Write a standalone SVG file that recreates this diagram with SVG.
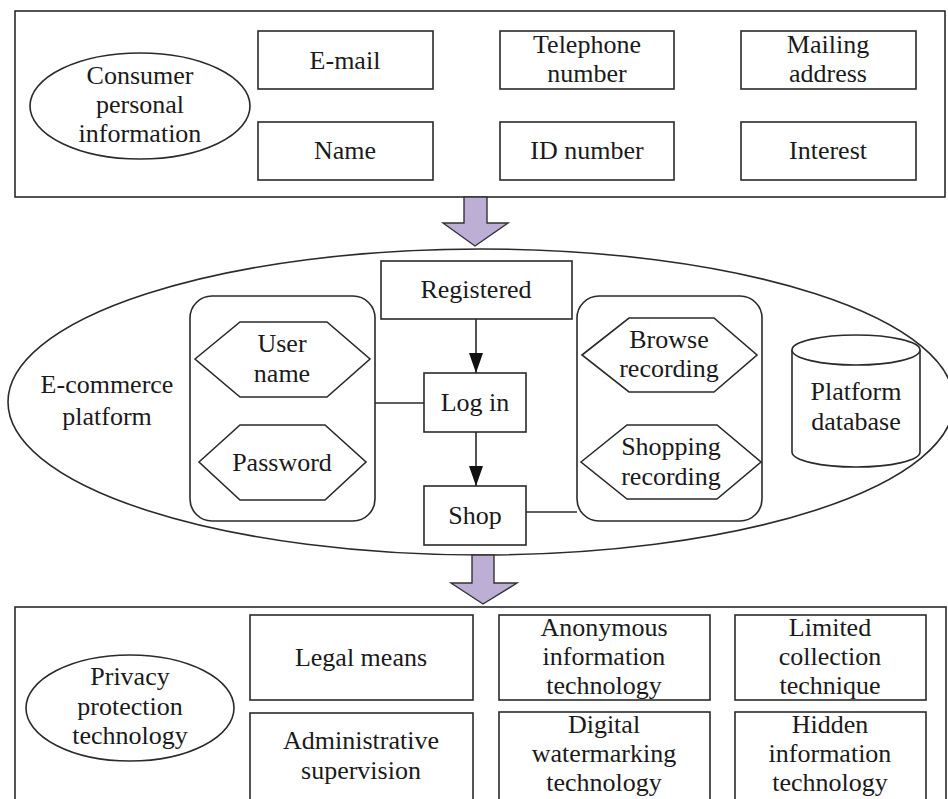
<svg xmlns="http://www.w3.org/2000/svg" width="948" height="799" viewBox="0 0 948 799">
<style>
.b{fill:#fff;stroke:#2a2a2a;stroke-width:1.6}
.n{fill:none;stroke:#2a2a2a;stroke-width:1.6}
.t{font-family:"Liberation Serif","Times New Roman",serif;font-size:26px;fill:#1a1a1a;text-anchor:middle}
.pa{fill:#bcaed4;stroke:#333;stroke-width:1.4}
</style>
<defs>
<marker id="ah" viewBox="0 0 20 14" refX="20" refY="7" markerWidth="20" markerHeight="14" markerUnits="userSpaceOnUse" orient="auto">
<path d="M0,0 L20,7 L0,14 Z" fill="#111"/>
</marker>
</defs>
<rect width="948" height="799" fill="#fff"/>

<g id="top-panel">
<rect class="b" x="15" y="11" width="930" height="186"/>
<g id="consumer"><ellipse class="b" cx="140" cy="106" rx="110" ry="53"/>
<text class="t" x="140" y="84">Consumer</text><text class="t" x="140" y="113">personal</text><text class="t" x="140" y="142">information</text></g>
<g id="email"><rect class="b" x="258" y="31" width="175" height="58"/><text class="t" x="345" y="69">E-mail</text></g>
<g id="telephone"><rect class="b" x="500" y="31" width="174" height="58"/><text class="t" x="587" y="53">Telephone</text><text class="t" x="587" y="82">number</text></g>
<g id="mailing"><rect class="b" x="741" y="31" width="175" height="58"/><text class="t" x="828" y="53">Mailing</text><text class="t" x="828" y="82">address</text></g>
<g id="name"><rect class="b" x="258" y="122" width="175" height="58"/><text class="t" x="345" y="159">Name</text></g>
<g id="idnumber"><rect class="b" x="500" y="122" width="174" height="58"/><text class="t" x="587" y="159">ID number</text></g>
<g id="interest"><rect class="b" x="741" y="122" width="175" height="58"/><text class="t" x="828" y="159">Interest</text></g>
</g>

<g id="arrow1"><path class="pa" d="M464,197 L487,197 L487,223 L508,223 L475,246 L443,223 L464,223 Z"/></g>

<g id="platform">
<ellipse class="b" cx="481" cy="402" rx="473" ry="153"/>
<text class="t" x="107" y="393">E-commerce</text><text class="t" x="107" y="425">platform</text>
</g>

<g id="account-group">
<rect class="b" x="190" y="296" width="185" height="225" rx="22"/>
<g id="username"><polygon class="b" points="195,359 240,322 327,322 370,359 327,397 240,397"/><text class="t" x="282" y="352">User</text><text class="t" x="282" y="382">name</text></g>
<g id="password"><polygon class="b" points="199,462 240,425 325,425 366,462 325,500 240,500"/><text class="t" x="282" y="471">Password</text></g>
</g>

<g id="records-group">
<rect class="b" x="577" y="296" width="185" height="225" rx="22"/>
<g id="browse"><polygon class="b" points="582,355 629,318 714,318 757,355 714,392 629,392"/><text class="t" x="669" y="348">Browse</text><text class="t" x="669" y="377">recording</text></g>
<g id="shopping"><polygon class="b" points="581,462 627,425 717,425 761,462 717,499 627,499"/><text class="t" x="671" y="455">Shopping</text><text class="t" x="671" y="485">recording</text></g>
</g>

<g id="database">
<path class="b" d="M792,350 L792,452 A64,15 0 0,0 920,452 L920,350"/>
<ellipse class="b" cx="856" cy="350" rx="64" ry="15"/>
<text class="t" x="856" y="400">Platform</text><text class="t" x="856" y="430">database</text>
</g>

<g id="registered"><rect class="b" x="381" y="261" width="191" height="58"/><text class="t" x="476" y="298">Registered</text></g>
<g id="login"><rect class="b" x="424" y="373" width="102" height="59"/><text class="t" x="475" y="411">Log in</text></g>
<g id="shop"><rect class="b" x="424" y="486" width="102" height="59"/><text class="t" x="475" y="524">Shop</text></g>

<g id="connectors">
<line class="n" x1="476" y1="319" x2="476" y2="373" marker-end="url(#ah)"/>
<line class="n" x1="476" y1="432" x2="476" y2="486" marker-end="url(#ah)"/>
<line class="n" x1="375" y1="403" x2="424" y2="403"/>
<line class="n" x1="526" y1="512" x2="577" y2="512"/>
</g>

<g id="arrow2"><path class="pa" d="M472,555 L494,555 L494,583 L517,583 L483,604 L451,583 L472,583 Z"/></g>

<g id="bottom-panel">
<rect class="b" x="15" y="607" width="931" height="210"/>
<g id="privacy"><ellipse class="b" cx="130" cy="708" rx="104" ry="53"/>
<text class="t" x="130" y="685">Privacy</text><text class="t" x="130" y="715">protection</text><text class="t" x="130" y="744">technology</text></g>
<g id="legal"><rect class="b" x="250" y="615" width="223" height="85"/><text class="t" x="361" y="666">Legal means</text></g>
<g id="anonymous"><rect class="b" x="499" y="615" width="211" height="85"/><text class="t" x="604" y="636">Anonymous</text><text class="t" x="604" y="665">information</text><text class="t" x="604" y="694">technology</text></g>
<g id="limited"><rect class="b" x="735" y="615" width="191" height="85"/><text class="t" x="830" y="636">Limited</text><text class="t" x="830" y="665">collection</text><text class="t" x="830" y="694">technique</text></g>
<g id="administrative"><rect class="b" x="250" y="713" width="223" height="100"/><text class="t" x="361" y="749">Administrative</text><text class="t" x="361" y="779">supervision</text></g>
<g id="digital"><rect class="b" x="499" y="712" width="211" height="100"/><text class="t" x="604" y="733">Digital</text><text class="t" x="604" y="762">watermarking</text><text class="t" x="604" y="791">technology</text></g>
<g id="hidden"><rect class="b" x="735" y="712" width="191" height="100"/><text class="t" x="830" y="733">Hidden</text><text class="t" x="830" y="762">information</text><text class="t" x="830" y="791">technology</text></g>
</g>
</svg>
